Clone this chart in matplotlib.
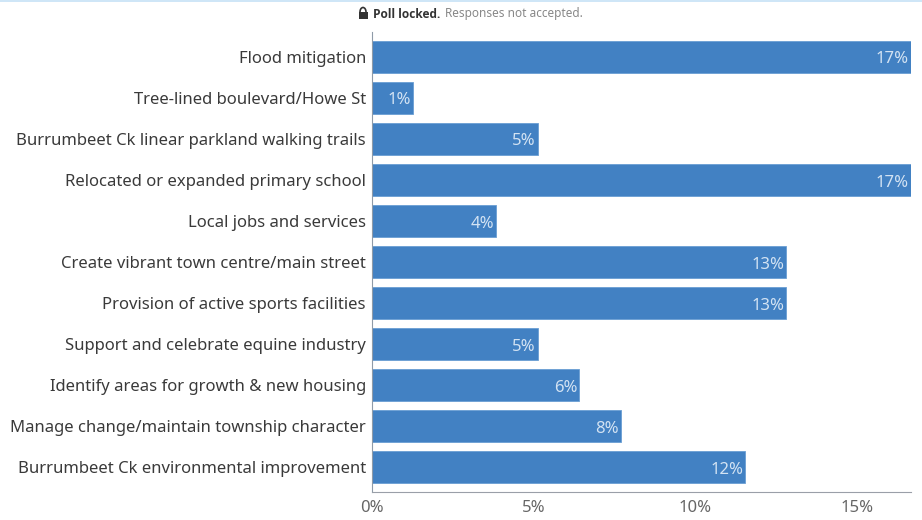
import matplotlib
matplotlib.use('Agg')
import matplotlib.pyplot as plt
from matplotlib.patches import Rectangle, Arc

categories = [
    'Flood mitigation',
    'Tree-lined boulevard/Howe St',
    'Burrumbeet Ck linear parkland walking trails',
    'Relocated or expanded primary school',
    'Local jobs and services',
    'Create vibrant town centre/main street',
    'Provision of active sports facilities',
    'Support and celebrate equine industry',
    'Identify areas for growth & new housing',
    'Manage change/maintain township character',
    'Burrumbeet Ck environmental improvement',
]
values = [16.65, 1.28, 5.13, 16.65, 3.85, 12.8, 12.8, 5.13, 6.41, 7.69, 11.54]
bar_labels = ['17%', '1%', '5%', '17%', '4%', '13%', '13%', '5%', '6%', '8%', '12%']
x_ticks = [0, 5, 10, 15]

W, H = 922, 520
plt.rcParams['font.family'] = ['Noto Sans', 'DejaVu Sans']

fig = plt.figure(figsize=(W / 100, H / 100), dpi=100)
# axes box in pixels of the reference
left, right, top, bottom = 371.5, 911, 32, 491.5
ax = fig.add_axes([left / W, 1 - bottom / H, (right - left) / W, (bottom - top) / H])

y_pos = list(range(len(categories)))
ax.barh(y_pos, values, height=0.78, color='#4281c3', edgecolor='#6a9ed3', linewidth=0.6)
ax.set_ylim(len(categories) - 0.4, -0.6)
ax.set_xlim(0, (right - left) / 32.4)

for y, v, lab in zip(y_pos, values, bar_labels):
    ax.text(v - 0.06, y + 0.02, lab, ha='right', va='center_baseline', color='#d3e3f3', fontsize=12)

ax.set_yticks(y_pos)
ax.set_yticklabels(categories, fontsize=12, color='#3a3a3a', va='center_baseline')
ax.set_xticks(x_ticks)
ax.set_xticklabels([f'{t}%' for t in x_ticks], fontsize=12, color='#666666')
ax.tick_params(axis='y', length=0, pad=4)
ax.tick_params(axis='x', length=0, pad=6)
for s in ['top', 'right']:
    ax.spines[s].set_visible(False)
ax.spines['left'].set_color('#8f9ba8')
ax.spines['bottom'].set_color('#9a9fa8')
ax.spines['left'].set_linewidth(0.8)
ax.spines['bottom'].set_linewidth(0.8)

# header note
fig.text(372.5 / W, 1 - 14 / H, 'Poll locked.', fontsize=8.6, fontweight='bold', color='#333333',
         va='center', ha='left', family='Open Sans')
fig.text(445 / W, 1 - 14 / H, 'Responses not accepted.', fontsize=8.5, color='#888888',
         va='center', ha='left')

# lock icon
overlay = fig.add_axes([0, 0, 1, 1], facecolor='none')
overlay.set_xlim(0, W)
overlay.set_ylim(H, 0)
overlay.axis('off')
overlay.add_patch(Rectangle((358.5, 12), 9, 7, color='#333333', lw=0))
overlay.add_patch(Arc((363, 12), 6, 9, theta1=180, theta2=360, color='#333333', lw=1.2))
# thin light blue strip on the top edge
overlay.add_patch(Rectangle((0, 0), W, 1.5, color='#cfe6f7', lw=0))

fig.savefig('out.png', dpi=100)
